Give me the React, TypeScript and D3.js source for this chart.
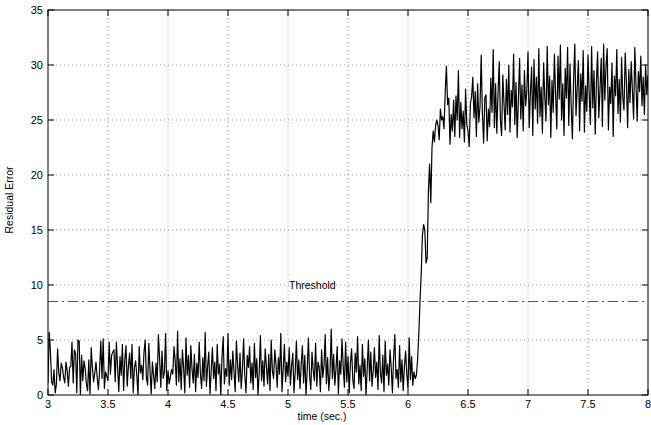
import React from "react";
import * as d3 from "d3";

// Sampling: t = 3.00 + 0.01 * i
const tStart = 3.0;
const tStep = 0.01;

// 3.00 – 3.99
const residualLow1 = [
  1.1, 5.7, 4.0, 1.2, 0.9, 2.3, 0.2, 1.0, 4.2, 2.0,
  1.3, 2.9, 2.5, 1.6, 1.1, 3.0, 2.2, 0.8, 2.5, 2.6,
  4.8, 1.1, 4.1, 3.8, 0.2, 5.0, 4.9, 0.0, 3.6, 1.3,
  3.1, 2.4, 1.0, 0.4, 3.2, 0.1, 4.3, 2.5, 1.2, 2.0,
  3.0, 1.6, 0.5, 2.2, 4.9, 1.5, 5.1, 0.6, 2.1, 1.7,
  1.3, 4.8, 1.9, 3.6, 3.9, 4.1, 1.2, 4.8, 2.5, 0.3,
  3.5, 1.8, 4.6, 0.4, 3.2, 4.5, 0.8, 2.6, 3.8, 1.5,
  4.6, 0.2, 2.5, 3.1, 1.8, 0.0, 4.4, 2.0, 2.7, 1.4,
  3.9, 5.0, 1.6, 0.9, 4.7, 2.3, 0.1, 3.0, 1.8, 0.6,
  2.9, 1.2, 5.5, 3.3, 0.7, 4.0, 1.5, 2.1, 5.6, 0.4,
];

// 4.00 – 4.99
const residualLow2 = [
  2.2, 1.0, 1.7, 2.3, 1.9, 4.4, 3.1, 0.9, 5.8, 1.2,
  3.3, 0.5, 4.1, 2.5, 0.2, 5.2, 1.8, 3.6, 0.7, 4.5,
  2.4, 1.1, 3.7, 0.3, 2.9, 1.6, 4.8, 2.0, 0.6, 3.4,
  1.3, 5.7, 0.8, 2.6, 3.9, 0.1, 2.2, 4.3, 1.5, 3.0,
  0.4, 4.6, 1.9, 2.8, 0.0, 3.5, 5.3, 1.0, 2.4, 1.7,
  5.6, 0.9, 3.2, 1.4, 4.0, 2.1, 0.3, 4.9, 2.7, 1.2,
  3.8, 0.6, 2.3, 5.1, 1.8, 0.2, 3.6, 2.5, 4.4, 1.1,
  2.9, 0.5, 4.7, 1.6, 3.3, 0.0, 2.0, 5.4, 1.3, 3.1,
  0.8, 4.2, 2.6, 1.0, 3.7, 0.4, 5.0, 2.2, 1.5, 4.1,
  2.8, 0.7, 3.4, 1.9, 5.6, 0.3, 2.4, 4.6, 1.2, 3.0,
];

// 5.00 – 6.06
const residualLow3 = [
  1.7, 4.3, 0.9, 2.6, 3.8, 0.2, 2.1, 4.9, 1.4, 3.2,
  0.6, 2.8, 4.5, 1.1, 3.6, 0.0, 2.3, 5.2, 1.8, 0.5,
  3.9, 2.2, 1.3, 4.7, 0.8, 3.0, 2.5, 0.3, 4.1, 1.6,
  2.7, 5.5, 1.0, 3.4, 0.4, 2.0, 6.0, 1.5, 3.7, 0.9,
  2.4, 4.4, 0.1, 3.1, 1.9, 5.1, 2.6, 0.7, 4.8, 1.2,
  3.5, 0.2, 2.9, 4.2, 1.4, 0.6, 3.8, 2.1, 5.3, 1.0,
  2.7, 0.4, 4.6, 1.7, 3.3, 0.0, 2.4, 5.0, 1.3, 3.9,
  0.8, 2.2, 4.3, 1.6, 3.0, 0.5, 5.4, 2.0, 1.1, 3.6,
  0.3, 4.9, 1.8, 2.8, 0.9, 4.1, 2.5, 0.2, 3.4, 5.5,
  1.5, 2.3, 0.7, 4.5, 1.2, 3.2, 0.4, 2.6, 4.0, 1.9,
  0.6, 5.2, 1.4, 3.5, 0.9, 2.1, 1.5,
];

// 6.07 – 6.24 (fault onset)
const residualRise = [
  1.8, 3.2, 5.5, 8.5, 11.0, 14.5, 15.5, 15.0, 12.0, 12.5,
  18.5, 21.0, 17.5, 22.5, 24.0, 23.0, 24.5, 25.0,
];

// 6.25 – 6.99
const residualHigh1 = [
  24.5, 23.2, 26.0, 25.0, 25.3, 24.2, 27.5, 29.9, 26.4, 27.0,
  22.8, 25.5, 24.0, 26.8, 23.5, 27.2, 25.0, 29.5, 23.4, 26.6,
  24.2, 25.8, 23.0, 27.8, 24.6, 24.0, 22.6, 26.5, 27.1, 28.9,
  25.2, 27.6, 23.5, 28.3, 24.8, 26.2, 30.9, 25.6, 22.9, 27.0,
  27.3, 23.1, 26.0, 24.4, 28.8, 25.7, 31.4, 24.3, 28.3, 23.8,
  27.4, 30.3, 25.0, 23.6, 29.1, 26.5, 24.1, 28.7, 25.5, 30.0,
  23.9, 27.7, 26.2, 31.0, 24.6, 28.4, 23.4, 26.9, 30.6, 25.1,
  28.2, 24.0, 29.5, 26.3, 27.6,
];

// 7.00 – 8.00
const residualHigh2 = [
  31.2, 24.3, 27.5, 29.8, 23.6, 30.5, 26.0, 28.9, 24.7, 31.5,
  25.3, 28.0, 23.8, 30.2, 27.1, 24.9, 31.7, 26.4, 29.0, 23.4,
  28.6, 25.7, 31.0, 27.3, 24.2, 30.8, 26.9, 31.8, 25.0, 28.3,
  23.6, 29.7, 27.0, 31.6, 24.5, 30.1, 26.2, 23.3, 28.8, 31.9,
  25.4, 27.9, 30.4, 24.0, 29.2, 26.7, 31.3, 23.9, 28.1, 25.8,
  30.9, 27.4, 24.6, 31.7, 26.1, 29.5, 23.7, 28.4, 31.2, 25.2,
  27.8, 30.6, 24.4, 31.9, 26.8, 29.9, 31.5, 24.1, 28.0, 26.5,
  30.2, 23.5, 29.0, 27.2, 31.4, 25.6, 28.7, 24.8, 30.7, 27.0,
  25.9, 31.1, 28.5, 24.3, 29.6, 26.6, 30.3, 27.7, 25.1, 31.6,
  28.2, 24.9, 29.4, 27.6, 30.8, 26.3, 28.9, 25.5, 30.0, 27.3,
  29.1,
];

const thresholdValue = 8.5;
const thresholdLabel = "Threshold";
const xTicks = [3, 3.5, 4, 4.5, 5, 5.5, 6, 6.5, 7, 7.5, 8];
const yTicks = [0, 5, 10, 15, 20, 25, 30, 35];
const xLabel = "time (sec.)";
const yLabel = "Residual Error";

const W = 651;
const H = 425;
const left = 48;
const right = 648;
const top = 10;
const bottom = 395;
const FONT = "'Liberation Sans', Arial, Helvetica, sans-serif";

export default function App() {
  const residual = [
    ...residualLow1,
    ...residualLow2,
    ...residualLow3,
    ...residualRise,
    ...residualHigh1,
    ...residualHigh2,
  ];
  const data = residual.map((v, i) => ({ t: tStart + i * tStep, v }));

  const x = d3.scaleLinear().domain([3, 8]).range([left, right]);
  const y = d3.scaleLinear().domain([0, 35]).range([bottom, top]);

  const line = d3
    .line<{ t: number; v: number }>()
    .x((d) => x(d.t))
    .y((d) => y(d.v));

  const tickLen = 6;

  return (
    <svg
      width={W}
      height={H}
      style={{ position: "absolute", left: 0, top: 0, background: "#fff" }}
      fontFamily={FONT}
    >
      <rect x={0} y={0} width={W} height={H} fill="#fff" />
      <defs>
        <clipPath id="plotClip">
          <rect x={left} y={top} width={right - left} height={bottom - top} />
        </clipPath>
      </defs>

      {/* grid */}
      <g stroke="#999" strokeWidth={1} strokeDasharray="1,3">
        {xTicks.slice(1, -1).map((t) => (
          <line key={"gx" + t} x1={x(t)} x2={x(t)} y1={top} y2={bottom} />
        ))}
        {yTicks.slice(1, -1).map((t) => (
          <line key={"gy" + t} x1={left} x2={right} y1={y(t)} y2={y(t)} />
        ))}
      </g>

      {/* threshold */}
      <line
        x1={left}
        x2={right}
        y1={y(thresholdValue)}
        y2={y(thresholdValue)}
        stroke="#555"
        strokeWidth={1}
        strokeDasharray="10,4,2,4"
      />
      <text x={289} y={289} fontSize={10.5} fill="#000">
        {thresholdLabel}
      </text>

      {/* data */}
      <path
        d={line(data) || ""}
        fill="none"
        stroke="#000"
        strokeWidth={1.2}
        strokeLinejoin="round"
        clipPath="url(#plotClip)"
      />

      {/* axes box and ticks */}
      <g stroke="#000" strokeWidth={1}>
        <rect x={left} y={top} width={right - left} height={bottom - top} fill="none" />
        {xTicks.map((t) => (
          <g key={"tx" + t}>
            <line x1={x(t)} x2={x(t)} y1={bottom} y2={bottom - tickLen} />
            <line x1={x(t)} x2={x(t)} y1={top} y2={top + tickLen} />
          </g>
        ))}
        {yTicks.map((t) => (
          <g key={"ty" + t}>
            <line x1={left} x2={left + tickLen} y1={y(t)} y2={y(t)} />
            <line x1={right} x2={right - tickLen} y1={y(t)} y2={y(t)} />
          </g>
        ))}
      </g>

      {/* tick labels */}
      <g fontSize={11} fill="#000">
        {xTicks.map((t) => (
          <text key={"lx" + t} x={x(t)} y={bottom + 13} textAnchor="middle">
            {String(t)}
          </text>
        ))}
        {yTicks.map((t) => (
          <text
            key={"ly" + t}
            x={left - 5}
            y={y(t)}
            textAnchor="end"
            dominantBaseline="central"
          >
            {String(t)}
          </text>
        ))}
      </g>

      {/* axis labels */}
      <text x={322} y={420} fontSize={10.5} textAnchor="middle" fill="#000">
        {xLabel}
      </text>
      <text
        transform={`translate(13, 200) rotate(-90)`}
        fontSize={10.5}
        textAnchor="middle"
        fill="#000"
      >
        {yLabel}
      </text>
    </svg>
  );
}
